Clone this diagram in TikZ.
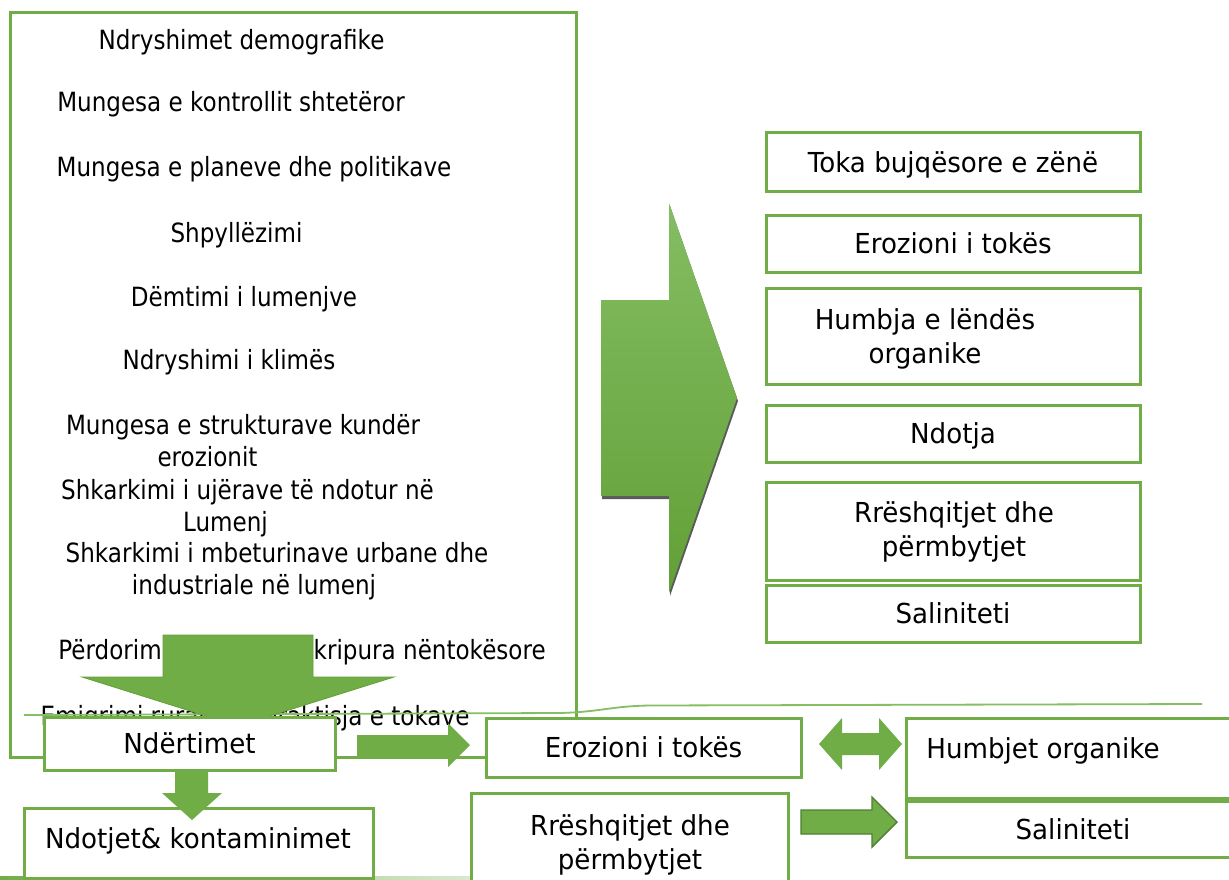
\documentclass[tikz,border=0pt]{standalone}
\usepackage{fontspec}
\setmainfont{DejaVu Sans}[FakeStretch=0.87]
\newfontfamily\effectfam{DejaVu Sans}[FakeStretch=0.95]
\definecolor{grn}{HTML}{70AD47}
\definecolor{grnlight}{HTML}{84BD63}
\definecolor{grndark}{HTML}{62A036}
\definecolor{grnedge}{HTML}{507E32}
\definecolor{grnthin}{HTML}{86BE62}
\definecolor{shadowgray}{HTML}{5A5A5A}
\newcommand\causefont{\fontsize{26.5}{32.5}\selectfont}
\newcommand\effectfont{\effectfam\fontsize{27.5}{34}\selectfont}
\begin{document}
\begin{tikzpicture}[x=1pt,y=-1pt,
  every node/.style={inner sep=0pt, font=\effectfont},
  gbox/.style={draw=grn, line width=3pt, fill=white},
  lbl/.style={text height=20pt, text depth=0pt},
  cause/.style={font=\causefont, text height=19.3pt, text depth=0pt},
  lbltwo/.style={align=center},
  blockarrow/.style={fill=grn},
]
\path[use as bounding box] (0,0) rectangle (1229,880);
\fill[white] (0,0) rectangle (1229,880);

% fading rule along the lower edge
\shade[left color=grn, right color=white] (0,876.5) rectangle (640,879.5);

% frame of causes
\node[draw=grn, line width=3pt, minimum width=566pt, minimum height=744pt] (causes) at (293,385) {};

\node[cause] (c1)  at (241.5,40)  {Ndryshimet demografike};
\node[cause] (c2)  at (231,102)   {Mungesa e kontrollit shtetëror};
\node[cause] (c3)  at (254,167)   {Mungesa e planeve dhe politikave};
\node[cause] (c4)  at (236.5,233) {Shpyllëzimi};
\node[cause] (c5)  at (244,297)   {Dëmtimi i lumenjve};
\node[cause] (c6)  at (229,360)   {Ndryshimi i klimës};
\node[cause] (c7a) at (243,425)   {Mungesa e strukturave kundër};
\node[cause] (c7b) at (207.5,457) {erozionit};
\node[cause] (c8a) at (247.5,490) {Shkarkimi i ujërave të ndotur në};
\node[cause] (c8b) at (225.5,522) {Lumenj};
\node[cause] (c9a) at (277,553)   {Shkarkimi i mbeturinave urbane dhe};
\node[cause] (c9b) at (254,585)   {industriale në lumenj};
\node[cause] (c10) at (302,650)   {Përdorimi i ujërave të kripura nëntokësore};
\node[cause] (c11) at (255,716)   {Emigrimi rural dhe braktisja e tokave};

% thin separating rule
\draw[grnthin, line width=1.8pt] (24,715) -- (560,713)
  .. controls (600,712) and (612,706) .. (650,705.5) -- (1202,704);

% large arrow pointing down
\draw[fill=grn, draw=grndark, line width=0.8pt]
  (163,635) -- (313,635) -- (313,677) -- (394,677) -- (238,726)
  -- (82,677) -- (163,677) -- cycle;

% large arrow pointing to the consequences
\fill[shadowgray, shift={(1,3)}]
  (601,300) -- (669,300) -- (669,203) -- (737,398) -- (669,593)
  -- (669,496) -- (601,496) -- cycle;
\shade[top color=grnlight, bottom color=grndark]
  (601,300) -- (669,300) -- (669,203) -- (737,398) -- (669,593)
  -- (669,496) -- (601,496) -- cycle;

% consequences column
\node[gbox, lbl, minimum width=374pt, minimum height=58pt] (r1) at (953,162) {Toka bujqësore e zënë};
\node[gbox, lbl, minimum width=374pt, minimum height=57pt] (r2) at (953,243.5) {Erozioni i tokës};
\node[gbox, minimum width=374pt, minimum height=96pt] (r3) at (953,336) {};
\node[lbltwo] (r3t) at (925,338.5) {Humbja e lëndës\\organike};
\node[gbox, lbl, minimum width=374pt, minimum height=57pt] (r4) at (953,433.5) {Ndotja};
\node[gbox, minimum width=374pt, minimum height=98pt] (r5) at (953,531) {};
\node[lbltwo] (r5t) at (954,532) {Rrëshqitjet dhe\\përmbytjet};
\node[gbox, lbl, minimum width=374pt, minimum height=57pt] (r6) at (953,613.5) {Saliniteti};

% lower chain
\node[gbox, lbl, minimum width=291pt, minimum height=53pt] (ndert) at (189.5,743.5) {Ndërtimet};
\node[gbox, lbl, minimum width=315pt, minimum height=59pt] (eroz) at (643.5,747.5) {Erozioni i tokës};
\node[gbox, minimum width=334pt, minimum height=80pt] (humb) at (1073,758) {};
\node[lbl] (humbt) at (1043,748) {Humbjet organike};
\node[gbox, lbl, minimum width=334pt, minimum height=56pt] (salb) at (1073,829) {Saliniteti};
\node[gbox, minimum width=317pt, minimum height=107pt] (rresh) at (629.5,846.5) {};
\node[lbltwo] (rresht) at (630,845) {Rrëshqitjet dhe\\përmbytjet};
\node[gbox, minimum width=349pt, minimum height=70pt] (ndot) at (198.5,843) {};
\node[lbl] (ndott) at (198,838) {Ndotjet\& kontaminimet};

% block arrows of the lower chain
\fill[blockarrow] (175,770) -- (208,770) -- (208,793) -- (222,793) -- (192,820)
  -- (162,793) -- (175,793) -- cycle;
\fill[blockarrow] (357,735) -- (448,735) -- (448,723) -- (470,745) -- (448,767)
  -- (448,757) -- (357,757) -- cycle;
\fill[blockarrow] (819,744) -- (842,718) -- (842,733) -- (879,733) -- (879,718)
  -- (902,744) -- (879,770) -- (879,755) -- (842,755) -- (842,770) -- cycle;
\draw[blockarrow, draw=grnedge, line width=1.4pt] (801,810) -- (872,810) -- (872,797)
  -- (897,822) -- (872,847) -- (872,834) -- (801,834) -- cycle;
\end{tikzpicture}
\end{document}
